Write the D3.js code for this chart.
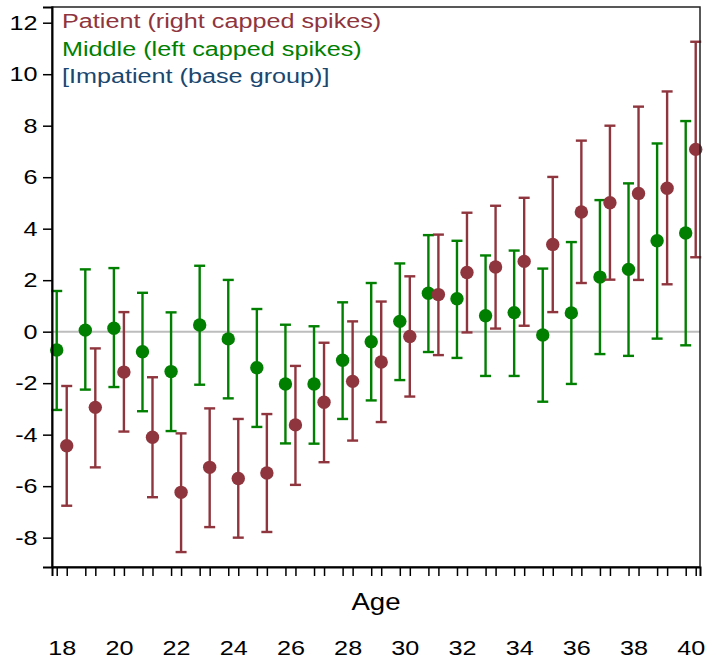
<!DOCTYPE html>
<html>
<head>
<meta charset="utf-8">
<script src="https://cdn.jsdelivr.net/npm/d3@7"></script>
<style>
  html, body { margin: 0; padding: 0; background: #fff; }
  svg { display: block; font-family: "Liberation Sans", Arial, sans-serif; }
</style>
</head>
<body>
<svg id="chart" width="708" height="662"></svg>
<script>
const ages = [18,19,20,21,22,23,24,25,26,27,28,29,30,31,32,33,34,35,36,37,38,39,40];
const middleMean = [-0.71,0.06,0.13,-0.78,-1.55,0.26,-0.28,-1.40,-2.03,-2.03,-1.11,-0.39,0.40,1.49,1.28,0.62,0.74,-0.13,0.73,2.12,2.42,3.53,3.83];
const middleLo   = [-3.04,-2.25,-2.15,-3.09,-3.86,-2.06,-2.59,-3.70,-4.34,-4.35,-3.39,-2.67,-1.88,-0.79,-1.02,-1.72,-1.72,-2.72,-2.03,-0.87,-0.94,-0.27,-0.53];
const middleHi   = [1.58,2.42,2.47,1.51,0.75,2.56,2.01,0.88,0.27,0.21,1.14,1.89,2.65,3.75,3.53,2.96,3.15,2.45,3.48,5.11,5.76,7.31,8.18];
const patientMean = [-4.43,-2.94,-1.57,-4.10,-6.24,-5.27,-5.70,-5.49,-3.62,-2.74,-1.93,-1.18,-0.19,1.44,2.30,2.51,2.73,3.39,4.65,5.01,5.37,5.57,7.08];
const patientLo   = [-6.76,-5.27,-3.88,-6.43,-8.56,-7.59,-8.00,-7.78,-5.95,-5.07,-4.23,-3.51,-2.52,-0.91,-0.03,0.12,0.23,0.76,1.89,2.02,2.01,1.84,2.89];
const patientHi   = [-2.11,-0.65,0.76,-1.77,-3.95,-2.98,-3.39,-3.20,-1.33,-0.43,0.40,1.17,2.15,3.77,4.62,4.89,5.20,6.01,7.42,8.00,8.74,9.33,11.26];
const yTicks = [-8,-6,-4,-2,0,2,4,6,8,10,12];
const xLabelTicks = [18,20,22,24,26,28,30,32,34,36,38,40];
const legendLabels = ["Patient (right capped spikes)", "Middle (left capped spikes)", "[Impatient (base group)]"];
const xTitle = "Age";

const RED = "#8f353d", GREEN = "#007f00", BLUE = "#1a476f";
const STRETCH = 1.2; // reference text is horizontally widened
const svg = d3.select("#chart");
const L = 52, R = 700, T = 7, B = 567;
const x = d3.scaleLinear().domain([17.66, 40.325]).range([L, R]);
const y = d3.scaleLinear().domain([-9.14, 12.61]).range([B, T]);
const off = 0.175; // horizontal offset of groups in age units

// zero reference line
svg.append("line").attr("x1", L).attr("x2", R).attr("y1", y(0)).attr("y2", y(0))
  .attr("stroke", "#bdbdbd").attr("stroke-width", 2);

function series(mean, lo, hi, dx, color) {
  const g = svg.append("g");
  const data = ages.map((a, i) => ({a, m: mean[i], lo: lo[i], hi: hi[i]}));
  const capW = 5.5;
  g.selectAll("line.sp").data(data).join("line")
    .attr("x1", d => x(d.a + dx)).attr("x2", d => x(d.a + dx))
    .attr("y1", d => y(d.lo)).attr("y2", d => y(d.hi))
    .attr("stroke", color).attr("stroke-width", 2.4);
  g.selectAll("line.cl").data(data).join("line")
    .attr("x1", d => x(d.a + dx) - capW).attr("x2", d => x(d.a + dx) + capW)
    .attr("y1", d => y(d.lo)).attr("y2", d => y(d.lo))
    .attr("stroke", color).attr("stroke-width", 2.4);
  g.selectAll("line.ch").data(data).join("line")
    .attr("x1", d => x(d.a + dx) - capW).attr("x2", d => x(d.a + dx) + capW)
    .attr("y1", d => y(d.hi)).attr("y2", d => y(d.hi))
    .attr("stroke", color).attr("stroke-width", 2.4);
  g.selectAll("circle").data(data).join("circle")
    .attr("cx", d => x(d.a + dx)).attr("cy", d => y(d.m)).attr("r", 6.7)
    .attr("fill", color);
}
series(middleMean, middleLo, middleHi, -off, GREEN);
series(patientMean, patientLo, patientHi, off, RED);

// frame
svg.append("rect").attr("x", L).attr("y", T).attr("width", R - L).attr("height", B - T)
  .attr("fill", "none").attr("stroke", "#222").attr("stroke-width", 1.5);

// y axis
const yAxis = svg.append("g").attr("transform", `translate(${L},0)`)
  .call(d3.axisLeft(y).tickValues(yTicks).tickSize(9).tickPadding(5).tickFormat(d3.format("d")));
yAxis.select(".domain").attr("stroke", "#000").attr("stroke-width", 2);
yAxis.selectAll(".tick line").attr("stroke", "#000").attr("stroke-width", 1.5);
yAxis.selectAll("text").attr("font-size", 21).attr("fill", "#000")
  .attr("font-family", "'Liberation Sans', Arial, sans-serif")
  .attr("x", -12).attr("transform", `scale(${STRETCH},1)`)
  .text(d => d < 0 ? "-" + Math.abs(d) : d);

// x ticks (pairs)
const tickPos = [];
ages.forEach(a => { tickPos.push(a - off); tickPos.push(a + off); });
const xAxis = svg.append("g").attr("transform", `translate(0,${B})`)
  .call(d3.axisBottom(x).tickValues(tickPos).tickSize(9).tickFormat(""));
xAxis.select(".domain").attr("stroke", "#000").attr("stroke-width", 2);
xAxis.selectAll(".tick line").attr("stroke", "#000").attr("stroke-width", 1.5);

// x labels (placed below title)
const xLab = svg.append("g").attr("transform", `translate(0,640)`)
  .call(d3.axisBottom(x).tickValues(xLabelTicks).tickSize(0).tickPadding(0).tickFormat(d3.format("d")));
xLab.select(".domain").remove();
xLab.selectAll("text").attr("font-size", 21).attr("fill", "#000")
  .attr("font-family", "'Liberation Sans', Arial, sans-serif")
  .attr("transform", `scale(${STRETCH},1)`);

// title
svg.append("text").attr("transform", `translate(${(L + R) / 2},610) scale(${STRETCH},1)`)
  .attr("text-anchor", "middle")
  .attr("font-size", 23).attr("fill", "#000").text(xTitle);

// legend
const legColors = [RED, GREEN, BLUE];
svg.append("g").selectAll("text").data(legendLabels).join("text")
  .attr("transform", (d, i) => `translate(62,${28 + i * 27.5}) scale(${STRETCH},1)`)
  .attr("font-size", 21).attr("fill", (d, i) => legColors[i]).text(d => d);
</script>
</body>
</html>
